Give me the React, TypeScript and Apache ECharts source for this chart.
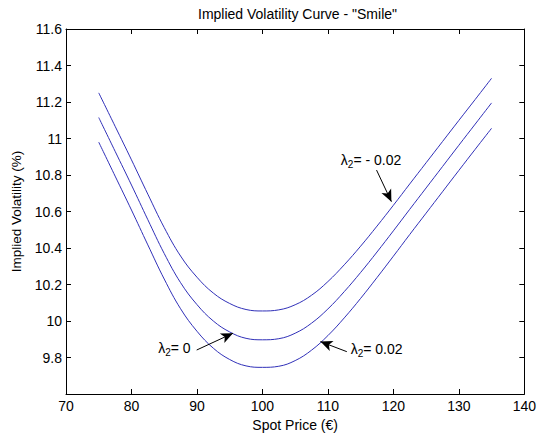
import React, { useEffect, useRef } from "react";
import * as echarts from "echarts";

const spotPrices = [75, 77.5, 80, 82.5, 85, 87.5, 90, 92.5, 95, 97.5, 100, 102.5, 105, 107.5, 110, 112.5, 115, 117.5, 120, 122.5, 125, 127.5, 130, 132.5, 135];

// lambda2 = -0.02 (upper curve)
const volLambdaNeg = [11.25, 11.067, 10.883, 10.695, 10.512, 10.356, 10.24, 10.153, 10.096, 10.063, 10.055, 10.061, 10.089, 10.141, 10.216, 10.308, 10.41, 10.52, 10.634, 10.751, 10.867, 10.983, 11.099, 11.214, 11.33];
// lambda2 = 0 (middle curve)
const volLambdaZero = [11.115, 10.93, 10.745, 10.555, 10.37, 10.21, 10.09, 10.0, 9.94, 9.905, 9.897, 9.903, 9.933, 9.988, 10.066, 10.161, 10.266, 10.378, 10.494, 10.612, 10.729, 10.846, 10.963, 11.079, 11.195];
// lambda2 = 0.02 (lower curve)
const volLambdaPos = [10.98, 10.794, 10.608, 10.417, 10.23, 10.067, 9.944, 9.851, 9.789, 9.754, 9.746, 9.752, 9.783, 9.84, 9.92, 10.017, 10.124, 10.238, 10.355, 10.474, 10.591, 10.708, 10.825, 10.941, 11.056];

const xTicks = { min: 70, max: 140, interval: 10 };
const yTicks = { min: 9.6, max: 11.6, interval: 0.2 };

// annotation texts (value after the lambda_2 symbol), anchors (data coords, left-middle of text)
const annotationTexts = ["= - 0.02", "= 0", "= 0.02"];
const annotationAnchors = [[111.9, 10.875], [84.0, 9.845], [113.4, 9.84]];
// arrows: [from, to] in data coords
const arrowFrom = [[117.43, 10.827], [89.96, 9.841], [112.89, 9.832]];
const arrowTo = [[119.7, 10.654], [95.5, 9.933], [108.86, 9.887]];

const FONT = "'Liberation Sans', Arial, Helvetica, sans-serif";
const LINE_COLOR = "#3030b8";

export default function App() {
  const ref = useRef<HTMLDivElement>(null);
  useEffect(() => {
    document.body.style.margin = "0";
    if (!ref.current) return;
    const chart = echarts.init(ref.current, undefined, { renderer: "svg" });
    const mk = (vals: number[]) => spotPrices.map((x, i) => [x, vals[i]]);
    const axisCommon = {
      axisLine: { show: true, onZero: false, lineStyle: { color: "#000", width: 1 } },
      axisTick: { show: true, inside: true, length: 5, lineStyle: { color: "#000", width: 1 } },
      splitLine: { show: false },
    };
    const lineSeries = (name: string, vals: number[], extra: any = {}) => ({
      type: "line",
      name,
      data: mk(vals),
      smooth: 0.4,
      showSymbol: false,
      symbol: "none",
      lineStyle: { color: LINE_COLOR, width: 1 },
      itemStyle: { color: LINE_COLOR },
      silent: true,
      ...extra,
    });
    chart.setOption({
      animation: false,
      backgroundColor: "#fff",
      textStyle: { fontFamily: FONT },
      grid: { left: 66, right: 10, top: 29, bottom: 43, containLabel: false },
      graphic: [
        {
          type: "text",
          x: 297.5,
          y: 13.5,
          style: {
            text: 'Implied Volatility Curve - "Smile"',
            fontFamily: FONT,
            fontSize: 14,
            fill: "#000",
            textAlign: "center",
            textVerticalAlign: "middle",
          },
        },
      ],
      xAxis: [
        {
          type: "value",
          position: "bottom",
          ...xTicks,
          ...axisCommon,
          axisLabel: { color: "#000", fontSize: 14, margin: 5, fontFamily: FONT },
          name: "Spot Price (€)",
          nameLocation: "middle",
          nameGap: 21,
          nameTextStyle: { color: "#000", fontSize: 14, fontFamily: FONT },
        },
        {
          type: "value",
          position: "top",
          ...xTicks,
          ...axisCommon,
          axisLabel: { show: false },
        },
      ],
      yAxis: [
        {
          type: "value",
          position: "left",
          ...yTicks,
          ...axisCommon,
          axisLabel: {
            color: "#000",
            fontSize: 14,
            margin: 4,
            fontFamily: FONT,
            formatter: (v: number) => (Math.abs(v - 9.6) < 1e-6 ? "" : String(Math.round(v * 10) / 10)),
          },
          name: "Implied Volatility (%)",
          nameLocation: "middle",
          nameGap: 39,
          nameTextStyle: { color: "#000", fontSize: 13.5, fontFamily: FONT },
        },
        {
          type: "value",
          position: "right",
          ...yTicks,
          ...axisCommon,
          axisLabel: { show: false },
        },
      ],
      series: [
        lineSeries("λ2 = -0.02", volLambdaNeg, {
          markLine: {
            silent: true,
            symbol: ["none", "arrow"],
            symbolSize: [8, 12],
            label: { show: false },
            lineStyle: { color: "#000", width: 1, type: "solid" },
            emphasis: { disabled: true },
            data: arrowFrom.map((f, i) => [
              { coord: f, symbol: "none" },
              { coord: arrowTo[i], symbol: "arrow", symbolSize: [8, 12] },
            ]),
          },
          markPoint: {
            silent: true,
            symbol: "circle",
            symbolSize: 1,
            itemStyle: { color: "rgba(0,0,0,0)" },
            label: {
              show: true,
              position: "right",
              distance: 0,
              color: "#000",
              fontFamily: FONT,
              rich: {
                a: { fontSize: 14, lineHeight: 16, verticalAlign: "top", color: "#000", fontFamily: FONT },
                s: { fontSize: 10, lineHeight: 16, verticalAlign: "bottom", padding: [6, 0, 0, 0], color: "#000", fontFamily: FONT },
              },
            },
            data: annotationAnchors.map((c, i) => ({
              coord: c,
              label: { formatter: "{a|λ}{s|2}{a|" + annotationTexts[i] + "}" },
            })),
          },
        }),
        lineSeries("λ2 = 0", volLambdaZero),
        lineSeries("λ2 = 0.02", volLambdaPos),
      ],
    });
    return () => chart.dispose();
  }, []);
  return (
    <div
      ref={ref}
      style={{ position: "fixed", left: 0, top: 0, width: 539, height: 437, background: "#fff" }}
    />
  );
}
